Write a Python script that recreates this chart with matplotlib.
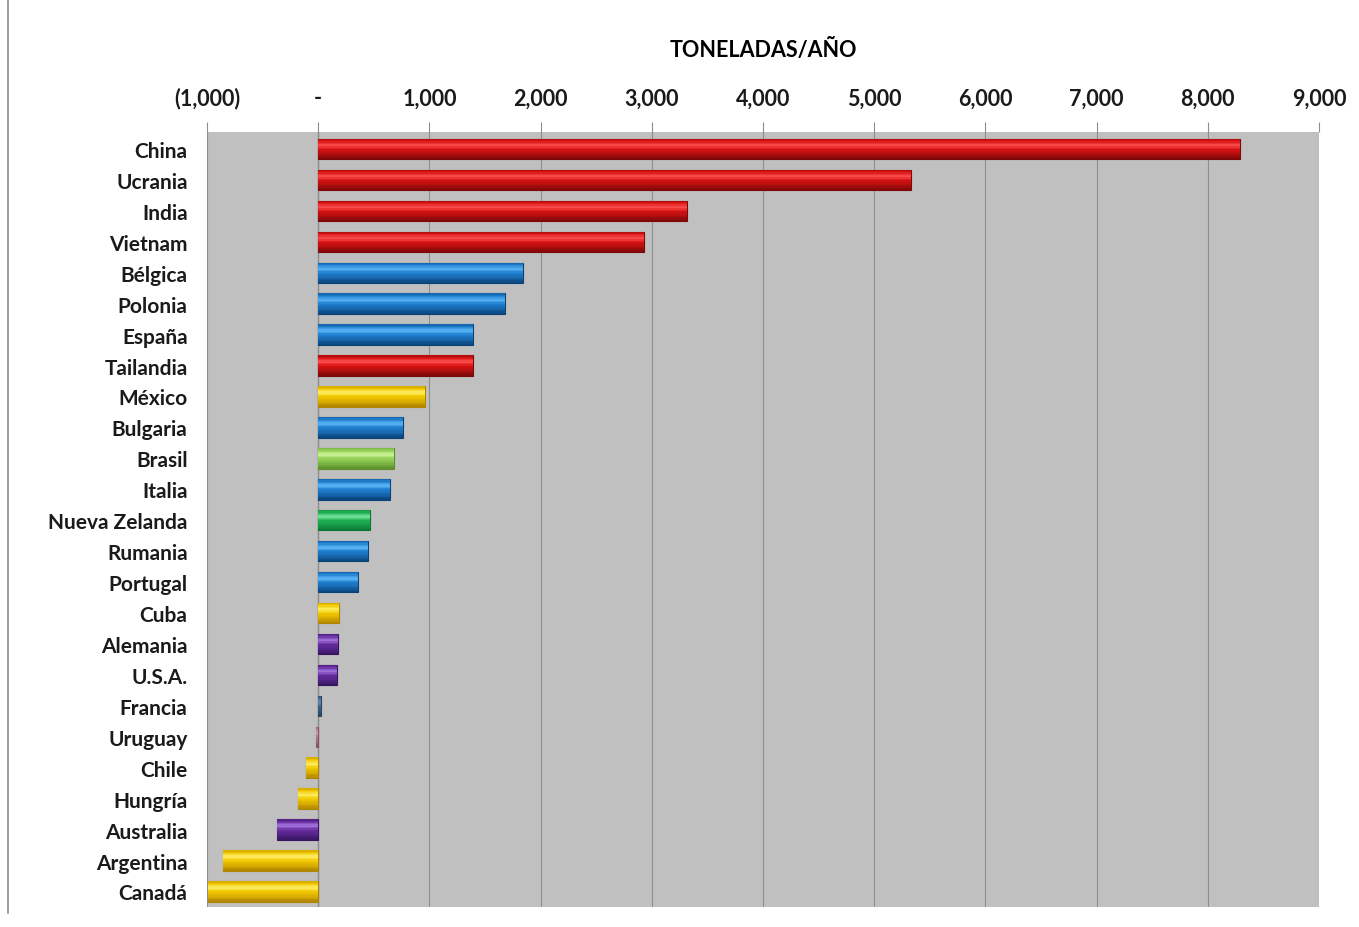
import matplotlib
matplotlib.use("Agg")
import matplotlib.pyplot as plt
import numpy as np
from matplotlib.ticker import FuncFormatter, FixedLocator
from matplotlib.lines import Line2D
from matplotlib.colors import to_rgb

countries = ["China", "Ucrania", "India", "Vietnam", "Bélgica", "Polonia", "España",
             "Tailandia", "México", "Bulgaria", "Brasil", "Italia", "Nueva Zelanda",
             "Rumania", "Portugal", "Cuba", "Alemania", "U.S.A.", "Francia", "Uruguay",
             "Chile", "Hungría", "Australia", "Argentina", "Canadá"]
values = [8290, 5330, 3320, 2930, 1840, 1680, 1390, 1390, 960, 760, 680, 650, 470,
          450, 360, 190, 180, 170, 25, -20, -110, -180, -370, -860, -990]
groups = ["red", "red", "red", "red", "blue", "blue", "blue", "red", "yellow", "blue",
          "lgreen", "blue", "green", "blue", "blue", "yellow", "purple", "purple",
          "grayblue", "pink", "yellow", "yellow", "purple", "yellow", "yellow"]
xticks = [-1000, 0, 1000, 2000, 3000, 4000, 5000, 6000, 7000, 8000, 9000]

palette = {
    "red": ("#7a0808", "#d81212", "#ff5252"),
    "blue": ("#0a4278", "#1f7fd0", "#5db6f5"),
    "yellow": ("#b08400", "#f2c800", "#fff06a"),
    "lgreen": ("#5a8f2c", "#96d258", "#cdf59a"),
    "green": ("#0a7632", "#1fb254", "#78e49c"),
    "purple": ("#351560", "#672ca0", "#a878e2"),
    "grayblue": ("#2a4460", "#3d6286", "#6d91b6"),
    "pink": ("#84525f", "#b07a88", "#d4a4b0"),
}

# shading profile from top (0) to bottom (1) of a bar
profile_t = [0.0, 0.12, 0.32, 0.5, 0.75, 1.0]

def shade(dark, base, hi):
    d, b, h = np.array(to_rgb(dark)), np.array(to_rgb(base)), np.array(to_rgb(hi))
    return [0.5 * d + 0.5 * b, b, h, b, 0.6 * b + 0.4 * d, d]

fig = plt.figure(figsize=(13.59, 9.28), dpi=100)
ax = fig.add_axes([0.1523, 0.0216, 0.8183, 0.8351])
ax.set_facecolor("#c0c0c0")

ypos = list(range(len(countries)))
h = 0.66
nstrip = 16
for y, v, g in zip(ypos, values, groups):
    dark, base, hi = palette[g]
    cols = np.array(shade(dark, base, hi))
    ax.barh(y, v, height=h, color=dark, edgecolor=dark, linewidth=0.8, zorder=3)
    for k in range(nstrip):
        t = (k + 0.5) / nstrip
        c = [np.interp(t, profile_t, cols[:, i]) for i in range(3)]
        top = y - h / 2 + k * h / nstrip
        ax.barh(top + h / nstrip / 2, v, height=h / nstrip * 1.05, color=c,
                linewidth=0, zorder=4)

ax.set_ylim(len(countries) - 0.5, -0.55)
ax.set_xlim(-1000, 9000)
ax.set_yticks(ypos)
ax.set_yticklabels(countries)
ax.xaxis.set_major_locator(FixedLocator(xticks))
def fmt(v, pos):
    if v == 0:
        return "-"
    if v < 0:
        return "({:,.0f})".format(-v)
    return "{:,.0f}".format(v)
ax.xaxis.set_major_formatter(FuncFormatter(fmt))
ax.xaxis.tick_top()
ax.xaxis.set_label_position("top")
ax.set_xlabel("TONELADAS/AÑO", fontsize=15.5, fontweight="bold", family="Lato", labelpad=22)
ax.grid(axis="x", color="#8e8e8e", linewidth=0.8, zorder=1)
ax.axvline(0, color="#8e8e8e", linewidth=1.0, zorder=2)
ax.tick_params(axis="x", length=7, color="#8e8e8e", labelsize=15.5, pad=10)
ax.tick_params(axis="y", length=0, labelsize=15, pad=14)
for lab in ax.get_xticklabels() + ax.get_yticklabels():
    lab.set_fontweight("bold")
    lab.set_family("Lato")
    lab.set_color("#1a1a1a")
for s in ax.spines.values():
    s.set_visible(False)

fig.add_artist(Line2D([8 / 1359, 8 / 1359], [0.015, 1.0], color="#8c8c8c", linewidth=1.2,
                      transform=fig.transFigure))

fig.savefig("out.png", dpi=100, facecolor="white")
